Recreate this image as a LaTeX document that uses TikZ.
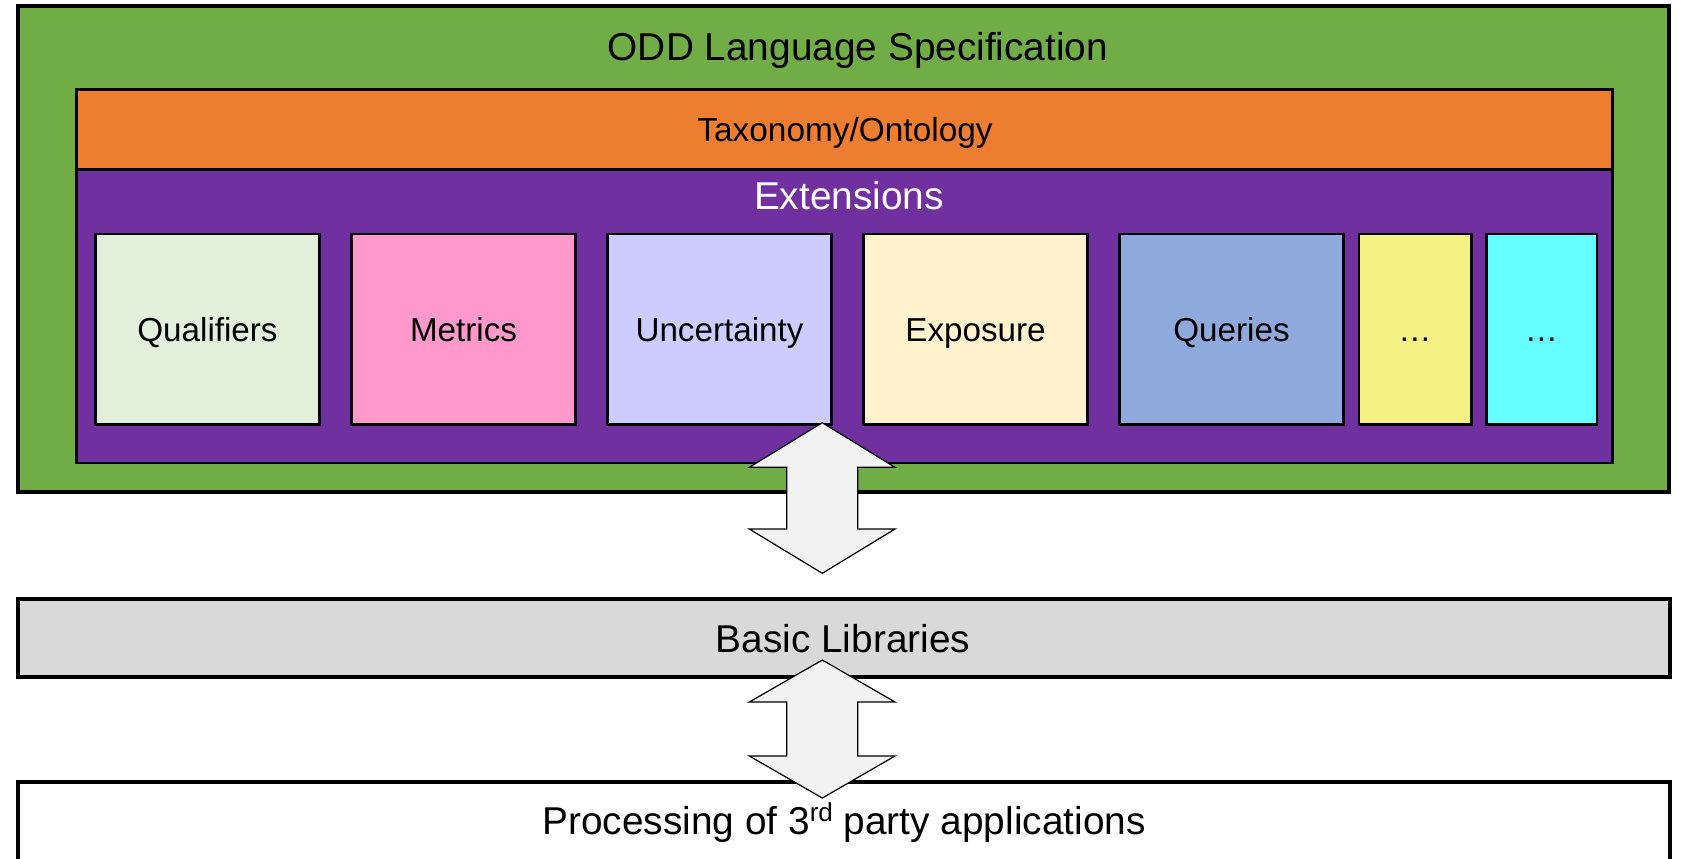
\documentclass[tikz,border=0pt]{standalone}
\usepackage{fontspec}
\setmainfont{Liberation Sans}
\usetikzlibrary{fit}
\definecolor{cgreen}{HTML}{70AD47}
\definecolor{corange}{HTML}{ED7D31}
\definecolor{cpurple}{HTML}{7030A0}
\definecolor{cqual}{HTML}{E2EFDA}
\definecolor{cmetr}{HTML}{FF99CC}
\definecolor{cunc}{HTML}{CCCCFF}
\definecolor{cexp}{HTML}{FFF2CC}
\definecolor{cquer}{HTML}{8EA9DB}
\definecolor{cyel}{HTML}{F3F283}
\definecolor{ccyan}{HTML}{66FFFF}
\definecolor{cbasic}{HTML}{D9D9D9}
\definecolor{carrow}{HTML}{F2F2F2}
\begin{document}
\begin{tikzpicture}[x=0.5pt,y=-0.5pt,
  area/.style={draw=black, inner sep=0pt, outer sep=0pt},
  thickarea/.style={area, line width=2pt},
  midarea/.style={area, line width=1.35pt},
  extbox/.style={midarea},
  boxtext/.style={font=\fontsize{16.6}{19}\selectfont, inner sep=0pt, anchor=base},
  bigtext/.style={font=\fontsize{19.4}{22}\selectfont, inner sep=0pt, anchor=base},
  midtext/.style={font=\fontsize{16.7}{19}\selectfont, inner sep=0pt, anchor=base},
  dblarrow/.style={draw=black, fill=carrow, line width=0.6pt, line join=miter}]
\clip (0,0) rectangle (1681,858);
\fill[white] (0,0) rectangle (1681,858);
% outer green frame
\node[thickarea, fill=cgreen, fit={(18,6)(1669,492)}] (odd) {};
\node[bigtext] (oddt) at (858,60) {ODD Language Specification};
% taxonomy
\node[midarea, fill=corange, fit={(76.5,89.5)(1612.5,169.5)}] (tax) {};
\node[midtext] (taxt) at (845,141) {Taxonomy/Ontology};
% extensions
\node[midarea, fill=cpurple, fit={(76.5,169.5)(1612.5,463)}] (ext) {};
\node[bigtext, text=white] (extt) at (849,209) {Extensions};
% extension boxes
\node[extbox, fill=cqual, fit={(95.5,234)(319.5,424.5)}] (qual) {};
\node[boxtext] (qualt) at (207.5,341) {Qualifiers};
\node[extbox, fill=cmetr, fit={(351.5,234)(575.5,424.5)}] (metr) {};
\node[boxtext] (metrt) at (463.5,341) {Metrics};
\node[extbox, fill=cunc, fit={(607.5,234)(831.5,424.5)}] (unc) {};
\node[boxtext] (unct) at (719.5,341) {Uncertainty};
\node[extbox, fill=cexp, fit={(863.5,234)(1087.5,424.5)}] (expo) {};
\node[boxtext] (expot) at (975.5,341) {Exposure};
\node[extbox, fill=cquer, fit={(1119.5,234)(1343.5,424.5)}] (quer) {};
\node[boxtext] (quert) at (1231.5,341) {Queries};
\node[extbox, fill=cyel, fit={(1359,234)(1471.5,424.5)}] (dotsa) {};
\node[boxtext] (dotsat) at (1415,341) {…};
\node[extbox, fill=ccyan, fit={(1486.5,234)(1597,424.5)}] (dotsb) {};
\node[boxtext] (dotsbt) at (1541.5,341) {…};
% basic libraries
\node[thickarea, fill=cbasic, fit={(18,598.5)(1670,677)}] (basic) {};
\node[bigtext] (basict) at (843,652) {Basic Libraries};
% processing
\node[thickarea, fill=white, fit={(18,781.5)(1670,880)}] (proc) {};
\node[bigtext] (proct) at (844,834) {Processing of 3{\fontsize{13}{14}\selectfont\raisebox{6.2pt}{rd}} party applications};
% double arrow 1
\coordinate (a1t) at (822.3,422.7);
\coordinate (a1b) at (822.3,573.3);
\draw[dblarrow] (a1t) -- (895,467.3) -- (857.7,467.3) -- (857.7,529) -- (895,529) -- (a1b)
  -- (749.3,529) -- (786.7,529) -- (786.7,467.3) -- (749.3,467.3) -- cycle;
% double arrow 2
\coordinate (a2t) at (822.3,660);
\coordinate (a2b) at (822.3,798);
\draw[dblarrow] (a2t) -- (895,702) -- (857.7,702) -- (857.7,756) -- (895,756) -- (a2b)
  -- (749.3,756) -- (786.7,756) -- (786.7,702) -- (749.3,702) -- cycle;
\end{tikzpicture}
\end{document}
